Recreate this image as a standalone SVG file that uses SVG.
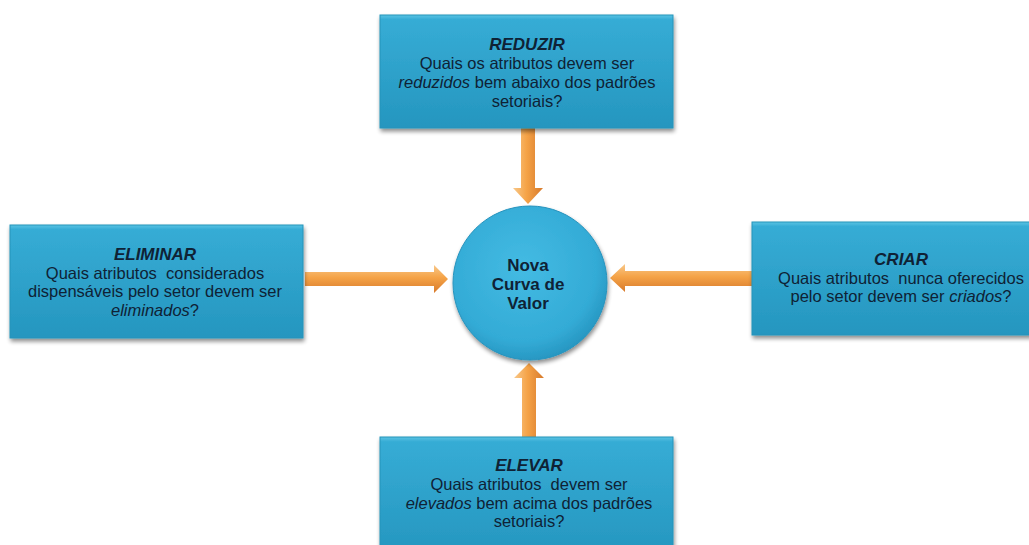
<svg xmlns="http://www.w3.org/2000/svg" width="1029" height="545" viewBox="0 0 1029 545">
<style>
.box{fill:url(#boxGrad);stroke:#2793ba;stroke-width:1;filter:url(#shadow);}
.t{font-family:"Liberation Sans",Arial,sans-serif;font-size:16.5px;fill:#0f2235;text-anchor:middle;}
.h{font-weight:bold;font-style:italic;font-size:17px;}
.i{font-style:italic;}
.p{white-space:pre;}
.c{font-family:"Liberation Sans",Arial,sans-serif;font-size:17px;font-weight:bold;fill:#0f2235;text-anchor:middle;}
.av{fill:url(#arrV);}
.ah{fill:url(#arrH);}
</style>
<defs>
<linearGradient id="boxGrad" x1="0" y1="0" x2="0" y2="1">
<stop offset="0" stop-color="#5ac3e3"/>
<stop offset="0.04" stop-color="#36acd5"/>
<stop offset="1" stop-color="#2596bf"/>
</linearGradient>
<radialGradient id="circGrad" cx="0.45" cy="0.4" r="0.6">
<stop offset="0" stop-color="#44bbe3"/>
<stop offset="0.8" stop-color="#33abd6"/>
<stop offset="1" stop-color="#2898c3"/>
</radialGradient>
<linearGradient id="arrV" x1="0" y1="0" x2="1" y2="0">
<stop offset="0" stop-color="#f8c88a"/>
<stop offset="0.45" stop-color="#f5a347"/>
<stop offset="1" stop-color="#d77a2c"/>
</linearGradient>
<linearGradient id="arrH" x1="0" y1="0" x2="0" y2="1">
<stop offset="0" stop-color="#f8c88a"/>
<stop offset="0.45" stop-color="#f5a347"/>
<stop offset="1" stop-color="#d77a2c"/>
</linearGradient>
<filter id="shadow" x="-5%" y="-5%" width="115%" height="125%">
<feGaussianBlur in="SourceAlpha" stdDeviation="2"/>
<feOffset dx="1" dy="3" result="b"/>
<feComponentTransfer><feFuncA type="linear" slope="0.45"/></feComponentTransfer>
<feMerge><feMergeNode/><feMergeNode in="SourceGraphic"/></feMerge>
</filter>
</defs>

<g id="connectors">
<path class="av" d="M521,128 L535,128 L535,188 L543,188 L528,204 L513,188 L521,188 Z"/>
<path class="av" d="M522,437 L536,437 L536,378 L544,378 L529,363 L514,378 L522,378 Z"/>
<path class="ah" d="M305,272 L434,272 L434,265 L448,279 L434,293 L434,286 L305,286 Z"/>
<path class="ah" d="M752,271 L625,271 L625,264 L610,278 L625,292 L625,286 L752,286 Z"/>
</g>

<g id="center">
<circle cx="530" cy="283" r="77" fill="url(#circGrad)" stroke="#2793bd" stroke-width="1" filter="url(#shadow)"/>
<text class="c" x="528" y="271">Nova</text>
<text class="c" x="528" y="290">Curva de</text>
<text class="c" x="528" y="309">Valor</text>
</g>

<g id="reduzir">
<rect class="box" x="380" y="15" width="293" height="113"/>
<text class="t h" x="527" y="50">REDUZIR</text>
<text class="t" x="527" y="69">Quais os atributos devem ser</text>
<text class="t" x="527" y="88"><tspan class="i">reduzidos</tspan> bem abaixo dos padrões</text>
<text class="t" x="527" y="107">setoriais?</text>
</g>

<g id="eliminar">
<rect class="box" x="10" y="225" width="293" height="113"/>
<text class="t h" x="155" y="260">ELIMINAR</text>
<text class="t p" x="155" y="279">Quais atributos  considerados</text>
<text class="t" x="155" y="297">dispensáveis pelo setor devem ser</text>
<text class="t" x="155" y="316"><tspan class="i">eliminados</tspan>?</text>
</g>

<g id="criar">
<rect class="box" x="752" y="222" width="300" height="113"/>
<text class="t h" x="901" y="265">CRIAR</text>
<text class="t p" x="901" y="284">Quais atributos  nunca oferecidos</text>
<text class="t" x="901" y="302">pelo setor devem ser <tspan class="i">criados</tspan>?</text>
</g>

<g id="elevar">
<rect class="box" x="380" y="437" width="293" height="120"/>
<text class="t h" x="529" y="471">ELEVAR</text>
<text class="t p" x="529" y="490">Quais atributos  devem ser</text>
<text class="t" x="529" y="509"><tspan class="i">elevados</tspan> bem acima dos padrões</text>
<text class="t" x="529" y="527">setoriais?</text>
</g>
</svg>
